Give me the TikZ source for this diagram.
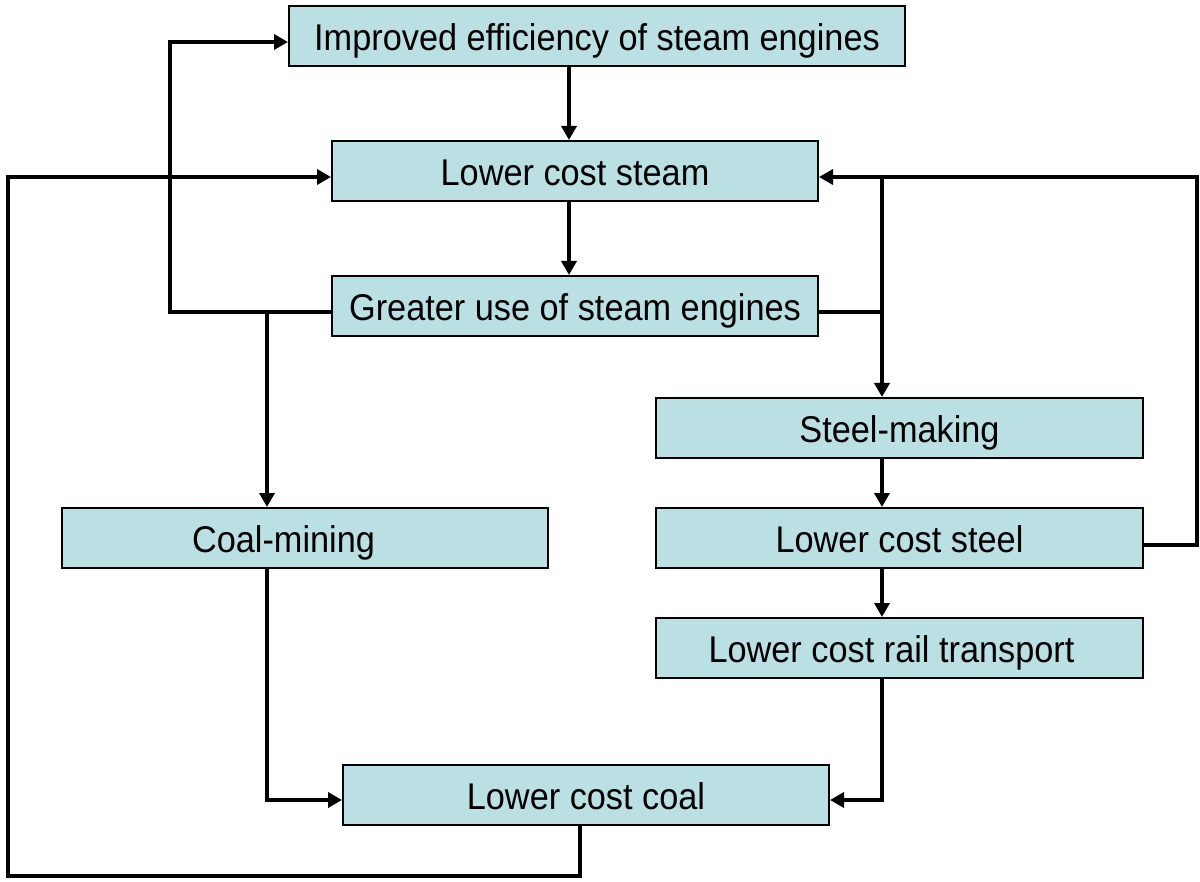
\documentclass[tikz,border=0pt]{standalone}
\usepackage{fontspec}
\setmainfont{Liberation Sans}[FakeStretch=0.922]
\usetikzlibrary{arrows.meta}
\definecolor{boxfill}{RGB}{187,224,227}
\begin{document}
\begin{tikzpicture}[x=0.5pt,y=-0.5pt,
  box/.style={draw=black,fill=boxfill,line width=1pt,inner sep=0pt,
    text height=14.5pt,text depth=0pt,
    minimum width=#1*0.5pt,minimum height=60*0.5pt,font=\fontsize{18.6}{22}\selectfont},
  conn/.style={line width=2pt,line join=miter},
  arr/.style={conn,-{Triangle[length=7pt,width=7.5pt]}}]
\useasboundingbox (0,0) rectangle (1200,882);
\node[box=616] (imp) at (597,36.5) {Improved efficiency of steam engines};
\node[box=486] (steam) at (575,171) {Lower cost steam};
\node[box=486] (use) at (575,306) {Greater use of steam engines};
\node[box=487] (smk) at (899.5,428) {Steel-making};
\node[box=486] (cmn) at (305,538) {Coal-mining\kern21.5pt};
\node[box=487] (lcst) at (899.5,538) {Lower cost steel};
\node[box=487] (rail) at (899.5,648) {Lower cost rail transport\kern8pt};
\node[box=486] (coal) at (586,795) {Lower cost coal};
% helper coordinates
\coordinate (xa) at (569,0);
\coordinate (xl) at (170,0);
\coordinate (xc) at (267,0);
\coordinate (xf) at (8,0);
\coordinate (xb) at (580,0);
\coordinate (xr) at (882,0);
\coordinate (xe) at (1197,0);
\coordinate (ya) at (0,312);
\coordinate (yi) at (0,42);
\coordinate (ys) at (0,177);
\coordinate (yc) at (0,800);
\coordinate (yb) at (0,876);
\coordinate (yst) at (0,545);
% main column
\draw[arr] (imp.south -| xa) -- (steam.north -| xa);
\draw[arr] (steam.south -| xa) -- (use.north -| xa);
% greater use -> improved efficiency
\draw[arr] (use.west |- ya) -- (xl |- ya) -- (xl |- yi) -- (imp.west |- yi);
% branch -> coal-mining
\draw[arr] (xc |- ya) -- (cmn.north -| xc);
% coal-mining -> lower cost coal
\draw[arr] (cmn.south -| xc) -- (xc |- yc) -- (coal.west |- yc);
% lower cost coal -> lower cost steam
\draw[arr] (coal.south -| xb) -- (xb |- yb) -- (xf |- yb) -- (xf |- ys) -- (steam.west |- ys);
% greater use -> steel-making
\draw[conn] (use.east |- ya) -- (xr |- ya);
\draw[arr] (xr |- ys) -- (smk.north -| xr);
% steel -> lower cost steam
\draw[arr] (lcst.east |- yst) -- (xe |- yst) -- (xe |- ys) -- (steam.east |- ys);
% right column
\draw[arr] (smk.south -| xr) -- (lcst.north -| xr);
\draw[arr] (lcst.south -| xr) -- (rail.north -| xr);
\draw[arr] (rail.south -| xr) -- (xr |- yc) -- (coal.east |- yc);
\end{tikzpicture}
\end{document}
